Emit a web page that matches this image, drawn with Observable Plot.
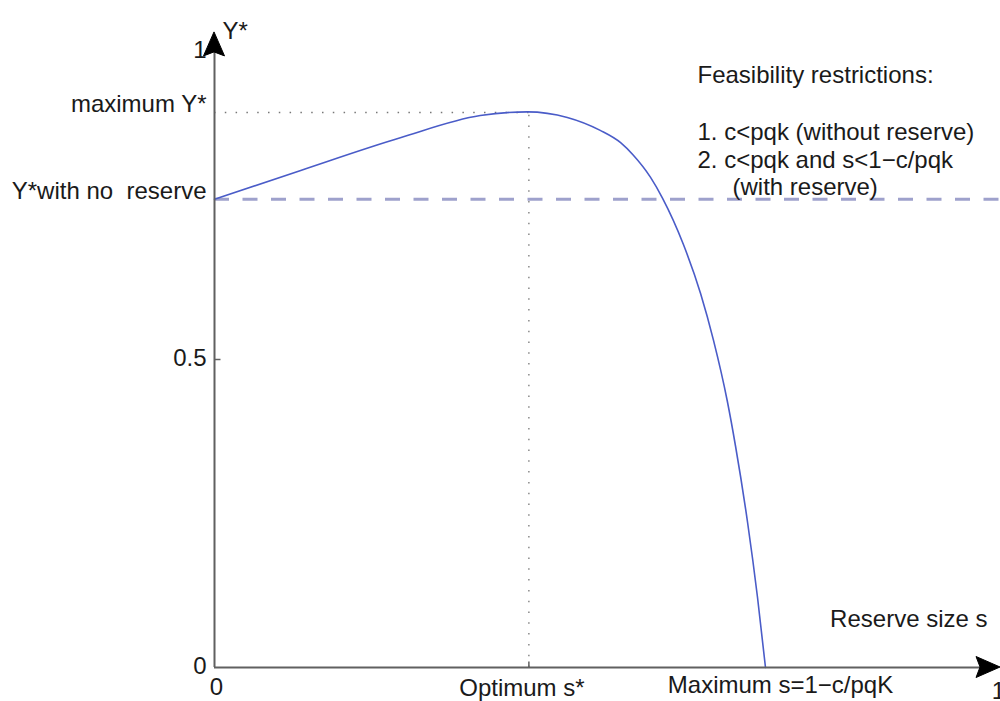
<!DOCTYPE html>
<html>
<head>
<meta charset="utf-8">
<script src="https://cdn.jsdelivr.net/npm/d3@7"></script>
<script src="https://cdn.jsdelivr.net/npm/@observablehq/plot@0.6"></script>
<style>
  html, body { margin: 0; padding: 0; background: #fff; }
  #chart svg { display: block; }
</style>
</head>
<body>
<div id="chart"></div>
<script>
// ---- data ----
const sValues = [0, 0.110, 0.237, 0.339, 0.399, 0.450, 0.492, 0.518, 0.534, 0.556, 0.5714, 0.598, 0.620, 0.6365, 0.654, 0.6645, 0.680, 0.6926, 0.7028];
const yValues = [0.760, 0.807, 0.860, 0.896, 0.902, 0.893, 0.872, 0.852, 0.832, 0.796, 0.762, 0.687, 0.607, 0.531, 0.433, 0.360, 0.235, 0.114, 0];

const sOpt = 0.401;       // optimum s*
const yMax = 0.901;       // maximum Y*
const yNoReserve = 0.760; // Y* with no reserve
const sMax = 0.7028;      // maximum s = 1 - c/pqK

const yTickValues = [0, 0.5, 1];
const yTickLabels = ["0", "0.5", "1"];
const yRefValues = [yMax, yNoReserve];
const yRefLabels = ["maximum Y*", "Y*with no\u00a0 reserve"];
const xTickValues = [0, sOpt, sMax, 1];
const xTickLabels = ["0", "Optimum s*", "Maximum s=1\u2212c/pqK", "1"];
const axisLabels = ["Y*", "Reserve size s"];
const noteLines = ["Feasibility restrictions:", "1. c<pqk (without reserve)", "2. c<pqk and s<1\u2212c/pqk", "(with reserve)"];
const axisEnds = {x: 1.0026, y: 1.031};

const curve = sValues.map((s, i) => ({s, y: yValues[i]}));

// ---- custom symbols ----
const tickRight = {draw(ctx) { ctx.moveTo(0, 0); ctx.lineTo(6, 0); }};
const tickUp = {draw(ctx) { ctx.moveTo(0, 0); ctx.lineTo(0, -6); }};

// arrowheads drawn through the plot's own scales (custom function mark)
function arrowheads(index, scales) {
  const {x, y} = scales;
  const g = d3.create("svg:g").attr("aria-label", "arrowheads").attr("fill", "#000").attr("stroke", "#000").attr("stroke-width", 1).attr("stroke-linejoin", "round");
  const head = "M0,0L-10.5,24L0,20L10.5,24Z";
  g.append("path").attr("d", head).attr("transform", `translate(${x(0)},${y(axisEnds.y)})`);
  g.append("path").attr("d", head).attr("transform", `translate(${x(axisEnds.x)},${y(0)}) rotate(90)`);
  return g.node();
}

const axisColor = "#606060";
const textColor = "#1a1a1a";

const chart = Plot.plot({
  width: 1000,
  height: 701,
  marginLeft: 214,
  marginRight: 2,
  marginTop: 51,
  marginBottom: 34,
  x: {domain: [0, 1], axis: null},
  y: {domain: [0, 1], axis: null},
  style: {fontFamily: "'Liberation Sans', Arial, Helvetica, sans-serif", fontSize: "24px", background: "#fff", color: textColor, overflow: "visible"},
  marks: [
    // reference lines
    Plot.ruleY([yNoReserve], {x1: 0, x2: axisEnds.x, stroke: "#9ea1cc", strokeWidth: 3, strokeDasharray: "15,13.5"}),
    Plot.ruleY([yMax], {x1: 0, x2: sOpt, stroke: "#777", strokeWidth: 1.3, strokeDasharray: "1.5,9.3"}),
    Plot.ruleX([sOpt], {y1: 0, y2: yMax, stroke: "#777", strokeWidth: 1.3, strokeDasharray: "1.5,9.3"}),
    // curve
    Plot.line(curve, {x: "s", y: "y", stroke: "#4a5cc8", strokeWidth: 1.6, curve: "monotone-x"}),
    // axes
    Plot.ruleX([0], {y1: 0, y2: axisEnds.y - 0.02, stroke: axisColor, strokeWidth: 2}),
    Plot.ruleY([0], {x1: 0, x2: axisEnds.x - 0.02, stroke: axisColor, strokeWidth: 2}),
    Plot.dot([0.5], {x: 0, y: d => d, symbol: tickRight, stroke: axisColor, strokeWidth: 1.5, fill: "none"}),
    Plot.dot([sOpt], {x: d => d, y: 0, symbol: tickUp, stroke: axisColor, strokeWidth: 1.5, fill: "none"}),
    arrowheads,
    // y tick labels
    Plot.text(yTickValues, {x: 0, y: d => d, text: (d, i) => yTickLabels[i], textAnchor: "end", dx: -8, dy: -1, fill: textColor}),
    Plot.text(yRefValues, {x: 0, y: d => d, text: (d, i) => yRefLabels[i], textAnchor: "end", dx: -8, dy: -8, fill: textColor}),
    // x tick labels
    Plot.text([xTickValues[0]], {x: d => d, y: 0, text: () => xTickLabels[0], dx: 2, dy: 20, fill: textColor}),
    Plot.text([xTickValues[1]], {x: d => d, y: 0, text: () => xTickLabels[1], dx: -7, dy: 21, fill: textColor}),
    Plot.text([xTickValues[2]], {x: d => d, y: 0, text: () => xTickLabels[2], dx: 15, dy: 18, fill: textColor}),
    Plot.text([xTickValues[3]], {x: d => d, y: 0, text: () => xTickLabels[3], dx: 0, dy: 24, fill: textColor}),
    // axis labels
    Plot.text([axisLabels[0]], {frameAnchor: "top-left", dx: 8, dy: -30, textAnchor: "start", fill: textColor}),
    Plot.text([axisLabels[1]], {frameAnchor: "bottom-right", dx: -11, dy: -41, textAnchor: "end", fill: textColor}),
    // notes
    Plot.text([noteLines[0]], {frameAnchor: "top-left", dx: 483, dy: 14, textAnchor: "start", fill: textColor}),
    Plot.text([noteLines[1]], {frameAnchor: "top-left", dx: 483, dy: 71, textAnchor: "start", fill: textColor}),
    Plot.text([noteLines[2]], {frameAnchor: "top-left", dx: 483, dy: 99, textAnchor: "start", fill: textColor}),
    Plot.text([noteLines[3]], {frameAnchor: "top-left", dx: 518, dy: 126, textAnchor: "start", fill: textColor})
  ]
});
document.getElementById("chart").appendChild(chart);
</script>
</body>
</html>
